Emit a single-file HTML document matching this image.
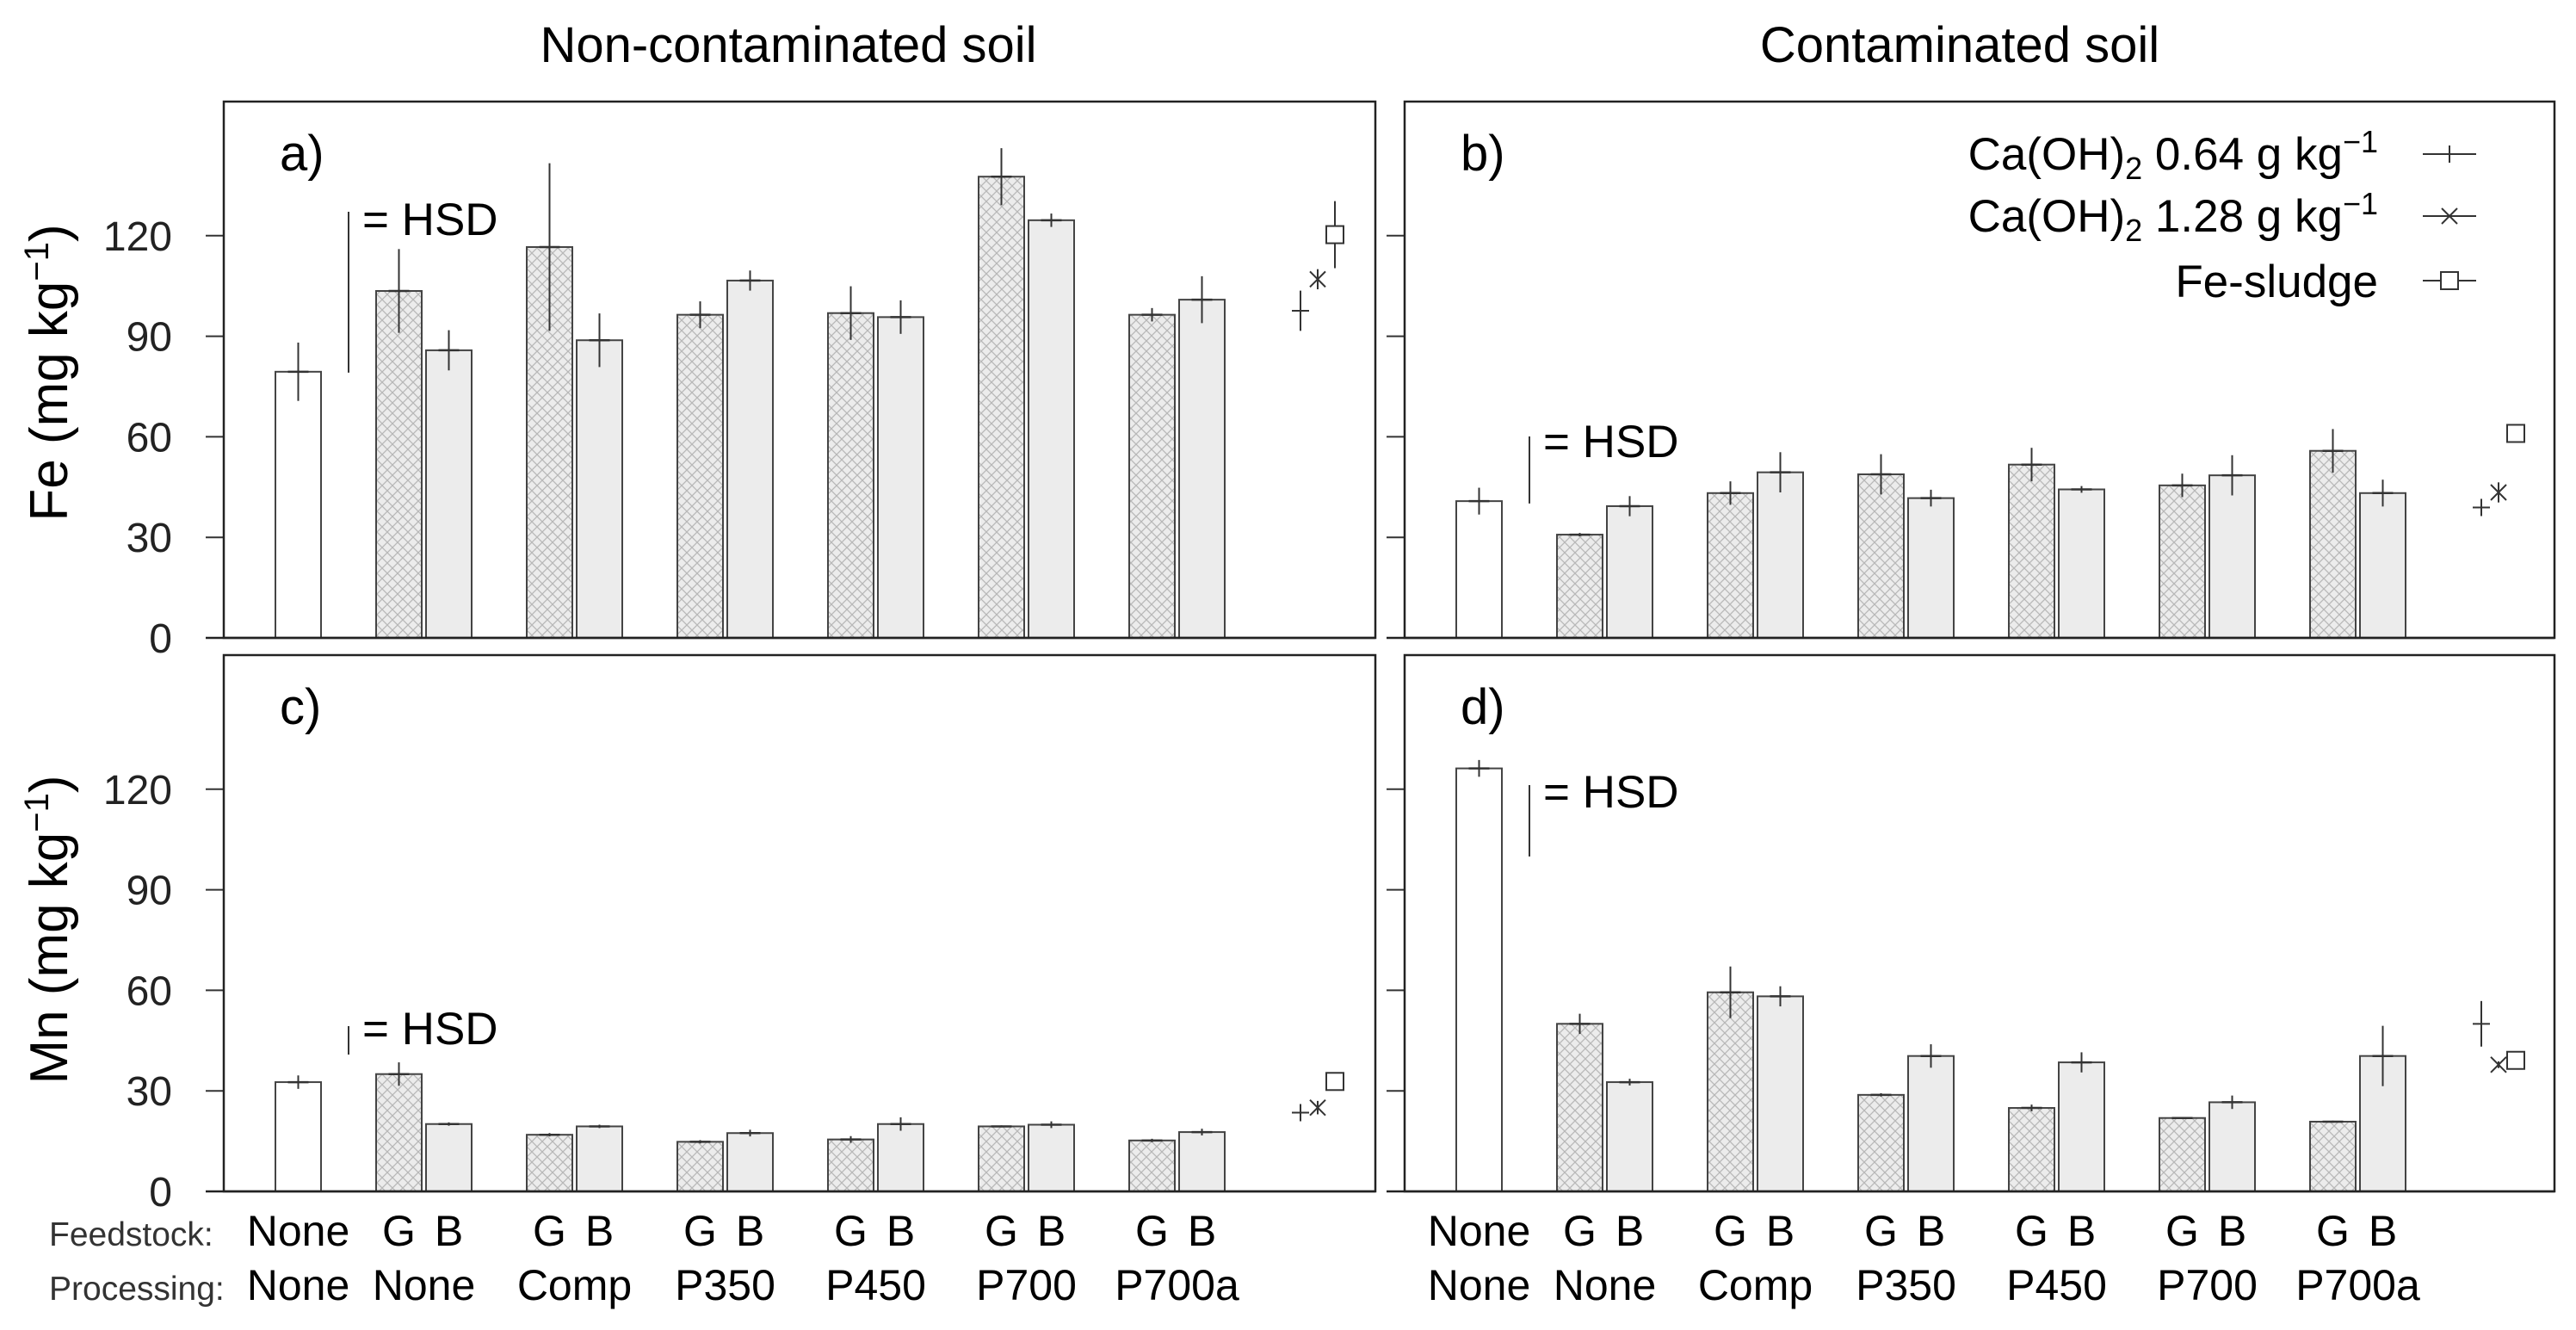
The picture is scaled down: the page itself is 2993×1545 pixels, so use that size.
<!DOCTYPE html>
<html><head><meta charset="utf-8">
<style>
html,body{margin:0;padding:0;background:#fff;}
svg{display:block;font-family:"Liberation Sans",Arial,sans-serif;}
</style></head>
<body>
<svg id="chart" width="2993" height="1545" viewBox="0 0 2993 1545" xmlns="http://www.w3.org/2000/svg">
<defs>
<pattern id="hatch" patternUnits="userSpaceOnUse" width="12" height="12">
<rect width="12" height="12" fill="#ececec"/>
<path d="M0,0 L12,12 M12,0 L0,12" stroke="#b8b8b8" stroke-width="1.3"/>
</pattern>
</defs>
<text x="916" y="72" font-size="58" text-anchor="middle">Non-contaminated soil</text>
<text x="2277" y="72" font-size="58" text-anchor="middle">Contaminated soil</text>
<g id="panels"></g>
</svg>
<script>
// ---- data ----
const groups = ["None","Comp","P350","P450","P700","P700a"];
const treatments = ["Ca(OH)2 0.64","Ca(OH)2 1.28","Fe-sludge"];
// panel a: Fe, non-contaminated
const aControl = [79.4, 8.7];
const aG = [103.5,116.6,96.4,96.9,137.6,96.4];
const aGerr = [12.5,25,4,8,8.5,2];
const aB = [85.8,88.8,106.6,95.7,124.6,100.9];
const aBerr = [6,8,3,5,2,7];
const aPts = [97.6,107,120.3];
const aPtsErr = [6,3,10];
const aHSD = 48;
// panel b: Fe, contaminated
const bControl = [40.8, 4];
const bG = [30.8,43.2,48.8,51.7,45.5,55.8];
const bGerr = [0.5,3.5,6,5,3.5,6.5];
const bB = [39.3,49.4,41.7,44.3,48.5,43.2];
const bBerr = [3,6,2.5,1,6,4];
const bPts = [38.9,43.4,61];
const bPtsErr = [2,3,0];
const bHSD = 20;
// panel c: Mn, non-contaminated
const cControl = [32.6, 2];
const cG = [35,16.9,14.8,15.5,19.4,15.2];
const cGerr = [3.5,0.5,0.5,1,0.3,0.5];
const cB = [20.1,19.4,17.4,20.1,19.9,17.7];
const cBerr = [0.5,0.5,1,2,1,1];
const cPts = [23.5,25,32.8];
const cPtsErr = [1,2,0];
const cHSD = 8.5;
// panel d: Mn, contaminated
const dControl = [126.2, 2.5];
const dG = [50,59.4,28.8,24.9,21.9,20.8];
const dGerr = [3,7.7,0.5,1,0.3,0.3];
const dB = [32.6,58.2,40.4,38.5,26.6,40.4];
const dBerr = [1,3,3.5,3,2,9];
const dPts = [50,37.8,39.1];
const dPtsErr = [6.8,1,0];
const dHSD = 21.3;
const yTicks = [0,30,60,90,120];
const feedLabels = ["G","B"];

// ---- drawing ----
const NS = "http://www.w3.org/2000/svg";
const root = document.getElementById("panels");
function mk(tag, attrs, parent){
  const e = document.createElementNS(NS, tag);
  for (const k in attrs) e.setAttribute(k, attrs[k]);
  (parent||root).appendChild(e);
  return e;
}
const YMAX = 160;
function drawPanel(p){
  const g = mk("g", {});
  
  
  const L = p.x, T = p.y, W = p.w, H = p.h, B0 = T + H;
  const ys = v => B0 - v / YMAX * H;
  const xControl = L + 86.5;
  const xG = i => L + 203.5 + 175 * i;
  const xB = i => xG(i) + 58;
  const ptX = [L + 1251, L + 1271, L + 1291];
  const bw = 53;
  yTicks.forEach(t => {
    const tk = mk("line", {x1: L - 21, x2: L, y1: ys(t), y2: ys(t), stroke: "#333", "stroke-width": 2}, g);
    
    
    if (p.labels) {
      const tl = mk("text", {x: L - 60, y: ys(t) + 17, "font-size": 48, "text-anchor": "end", fill: "#222"}, g);
      tl.textContent = t;
      
      
    }
  });
  function bar(x, v, e, fill, name){
    const r = mk("rect", {x: x - bw/2, y: ys(v), width: bw, height: B0 - ys(v), fill: fill, stroke: "#444", "stroke-width": 2}, g);
    
    
    const l = mk("line", {x1: x, x2: x, y1: ys(v + e), y2: ys(v - e), stroke: "#333", "stroke-width": 2}, g);
    
    
    mk("line", {x1: x - 12, x2: x + 12, y1: ys(v), y2: ys(v), stroke: "#333", "stroke-width": 2.5}, g);
  }
  bar(xControl, p.ctrl[0], p.ctrl[1], "#fff", "bar-control");
  groups.forEach((gn, i) => {
    bar(xG(i), p.G[i], p.Gerr[i], "url(#hatch)", "bar-g-" + gn.toLowerCase());
    bar(xB(i), p.B[i], p.Berr[i], "#ececec", "bar-b-" + gn.toLowerCase());
  });
  treatments.forEach((tn, i) => {
    const x = ptX[i], y = ys(p.pts[i]);
    if (p.ptsErr[i] > 0) mk("line", {x1: x, x2: x, y1: ys(p.pts[i] + p.ptsErr[i]), y2: ys(p.pts[i] - p.ptsErr[i]), stroke: "#333", "stroke-width": 2}, g);
    let m;
    if (i === 0) m = mk("path", {d: `M${x-10},${y}H${x+10}M${x},${y-10}V${y+10}`, stroke: "#333", "stroke-width": 2, fill: "none"}, g);
    else if (i === 1) m = mk("path", {d: `M${x-9},${y-9}L${x+9},${y+9}M${x+9},${y-9}L${x-9},${y+9}`, stroke: "#333", "stroke-width": 2, fill: "none"}, g);
    else m = mk("rect", {x: x - 10, y: y - 10, width: 20, height: 20, fill: "#fff", stroke: "#333", "stroke-width": 2}, g);
    
    
  });
  const fr = mk("rect", {x: L, y: T, width: W, height: H, fill: "none", stroke: "#222", "stroke-width": 2.5}, g);
  
  
  mk("line", {x1: L - 21, x2: L + W, y1: B0, y2: B0, stroke: "#222", "stroke-width": 2.5}, g);
  const pl = mk("text", {x: L + 65, y: T + 80, "font-size": 58}, g);
  pl.textContent = p.id + ")";
  
  
  const hx = L + p.hsdDx, htop = p.hsdTop;
  const hl = mk("line", {x1: hx, x2: hx, y1: htop, y2: htop + p.hsd / YMAX * H, stroke: "#333", "stroke-width": 2}, g);
  
  
  const ht = mk("text", {x: hx + 16, y: p.hsdTextY + 19, "font-size": 53}, g);
  ht.textContent = "= HSD";
  
  
  if (p.cats) {
    const mkT = (x, y, s, fs, anchor, name) => {
      const t = mk("text", {x: x, y: y, "font-size": fs, "text-anchor": anchor}, g);
      t.textContent = s;
      
      
    };
    mkT(xControl, 1447, "None", 50, "middle", "feedstock-label");
    mkT(xControl, 1510, "None", 50, "middle", "processing-label");
    groups.forEach((gn, i) => {
      mkT(xG(i), 1447, feedLabels[0], 50, "middle", "feedstock-label");
      mkT(xB(i), 1447, feedLabels[1], 50, "middle", "feedstock-label");
      mkT((xG(i) + xB(i)) / 2, 1510, gn, 50, "middle", "processing-label");
    });
  }
}
drawPanel({id:"a", x:260, y:118, w:1338, h:623, labels:true, ctrl:aControl, G:aG, Gerr:aGerr, B:aB, Berr:aBerr, pts:aPts, ptsErr:aPtsErr, hsd:aHSD, hsdDx:145, hsdTop:246, hsdTextY:254});
drawPanel({id:"b", x:1632, y:118, w:1336, h:623, labels:false, ctrl:bControl, G:bG, Gerr:bGerr, B:bB, Berr:bBerr, pts:bPts, ptsErr:bPtsErr, hsd:bHSD, hsdDx:145, hsdTop:507, hsdTextY:512});
drawPanel({id:"c", x:260, y:761, w:1338, h:623, labels:true, cats:true, ctrl:cControl, G:cG, Gerr:cGerr, B:cB, Berr:cBerr, pts:cPts, ptsErr:cPtsErr, hsd:cHSD, hsdDx:145, hsdTop:1192, hsdTextY:1194});
drawPanel({id:"d", x:1632, y:761, w:1336, h:623, labels:false, cats:true, ctrl:dControl, G:dG, Gerr:dGerr, B:dB, Berr:dBerr, pts:dPts, ptsErr:dPtsErr, hsd:dHSD, hsdDx:145, hsdTop:912, hsdTextY:919});
</script>
<svg style="position:absolute;left:0;top:0" width="2993" height="1545" viewBox="0 0 2993 1545" xmlns="http://www.w3.org/2000/svg" font-family="Liberation Sans, Arial, sans-serif">
<text transform="translate(78,433) rotate(-90)" font-size="62" text-anchor="middle">Fe (mg kg<tspan dy="-22" font-size="40">−1</tspan><tspan dy="22">)</tspan></text>
<text transform="translate(78,1080) rotate(-90)" font-size="62" text-anchor="middle">Mn (mg kg<tspan dy="-22" font-size="40">−1</tspan><tspan dy="22">)</tspan></text>
<text x="57" y="1447" font-size="39" fill="#333">Feedstock:</text>
<text x="57" y="1510" font-size="39" fill="#333">Processing:</text>
<g font-size="53">
<text x="2763" y="197" text-anchor="end">Ca(OH)<tspan font-size="36" dy="11">2</tspan><tspan dy="-11"> 0.64 g kg</tspan><tspan font-size="36" dy="-20">−1</tspan></text>
<line x1="2815" x2="2877" y1="179" y2="179" stroke="#333" stroke-width="2"/>
<path d="M2846,169V189" stroke="#333" stroke-width="2"/>
<text x="2763" y="269" text-anchor="end">Ca(OH)<tspan font-size="36" dy="11">2</tspan><tspan dy="-11"> 1.28 g kg</tspan><tspan font-size="36" dy="-20">−1</tspan></text>
<line x1="2815" x2="2877" y1="251" y2="251" stroke="#333" stroke-width="2"/>
<path d="M2837,242L2855,260M2855,242L2837,260" stroke="#333" stroke-width="2"/>
<text x="2763" y="345" text-anchor="end">Fe-sludge</text>
<line x1="2815" x2="2877" y1="326" y2="326" stroke="#333" stroke-width="2"/>
<rect x="2836" y="316" width="20" height="20" fill="#fff" stroke="#333" stroke-width="2"/>
</g>
</svg>
</body></html>
